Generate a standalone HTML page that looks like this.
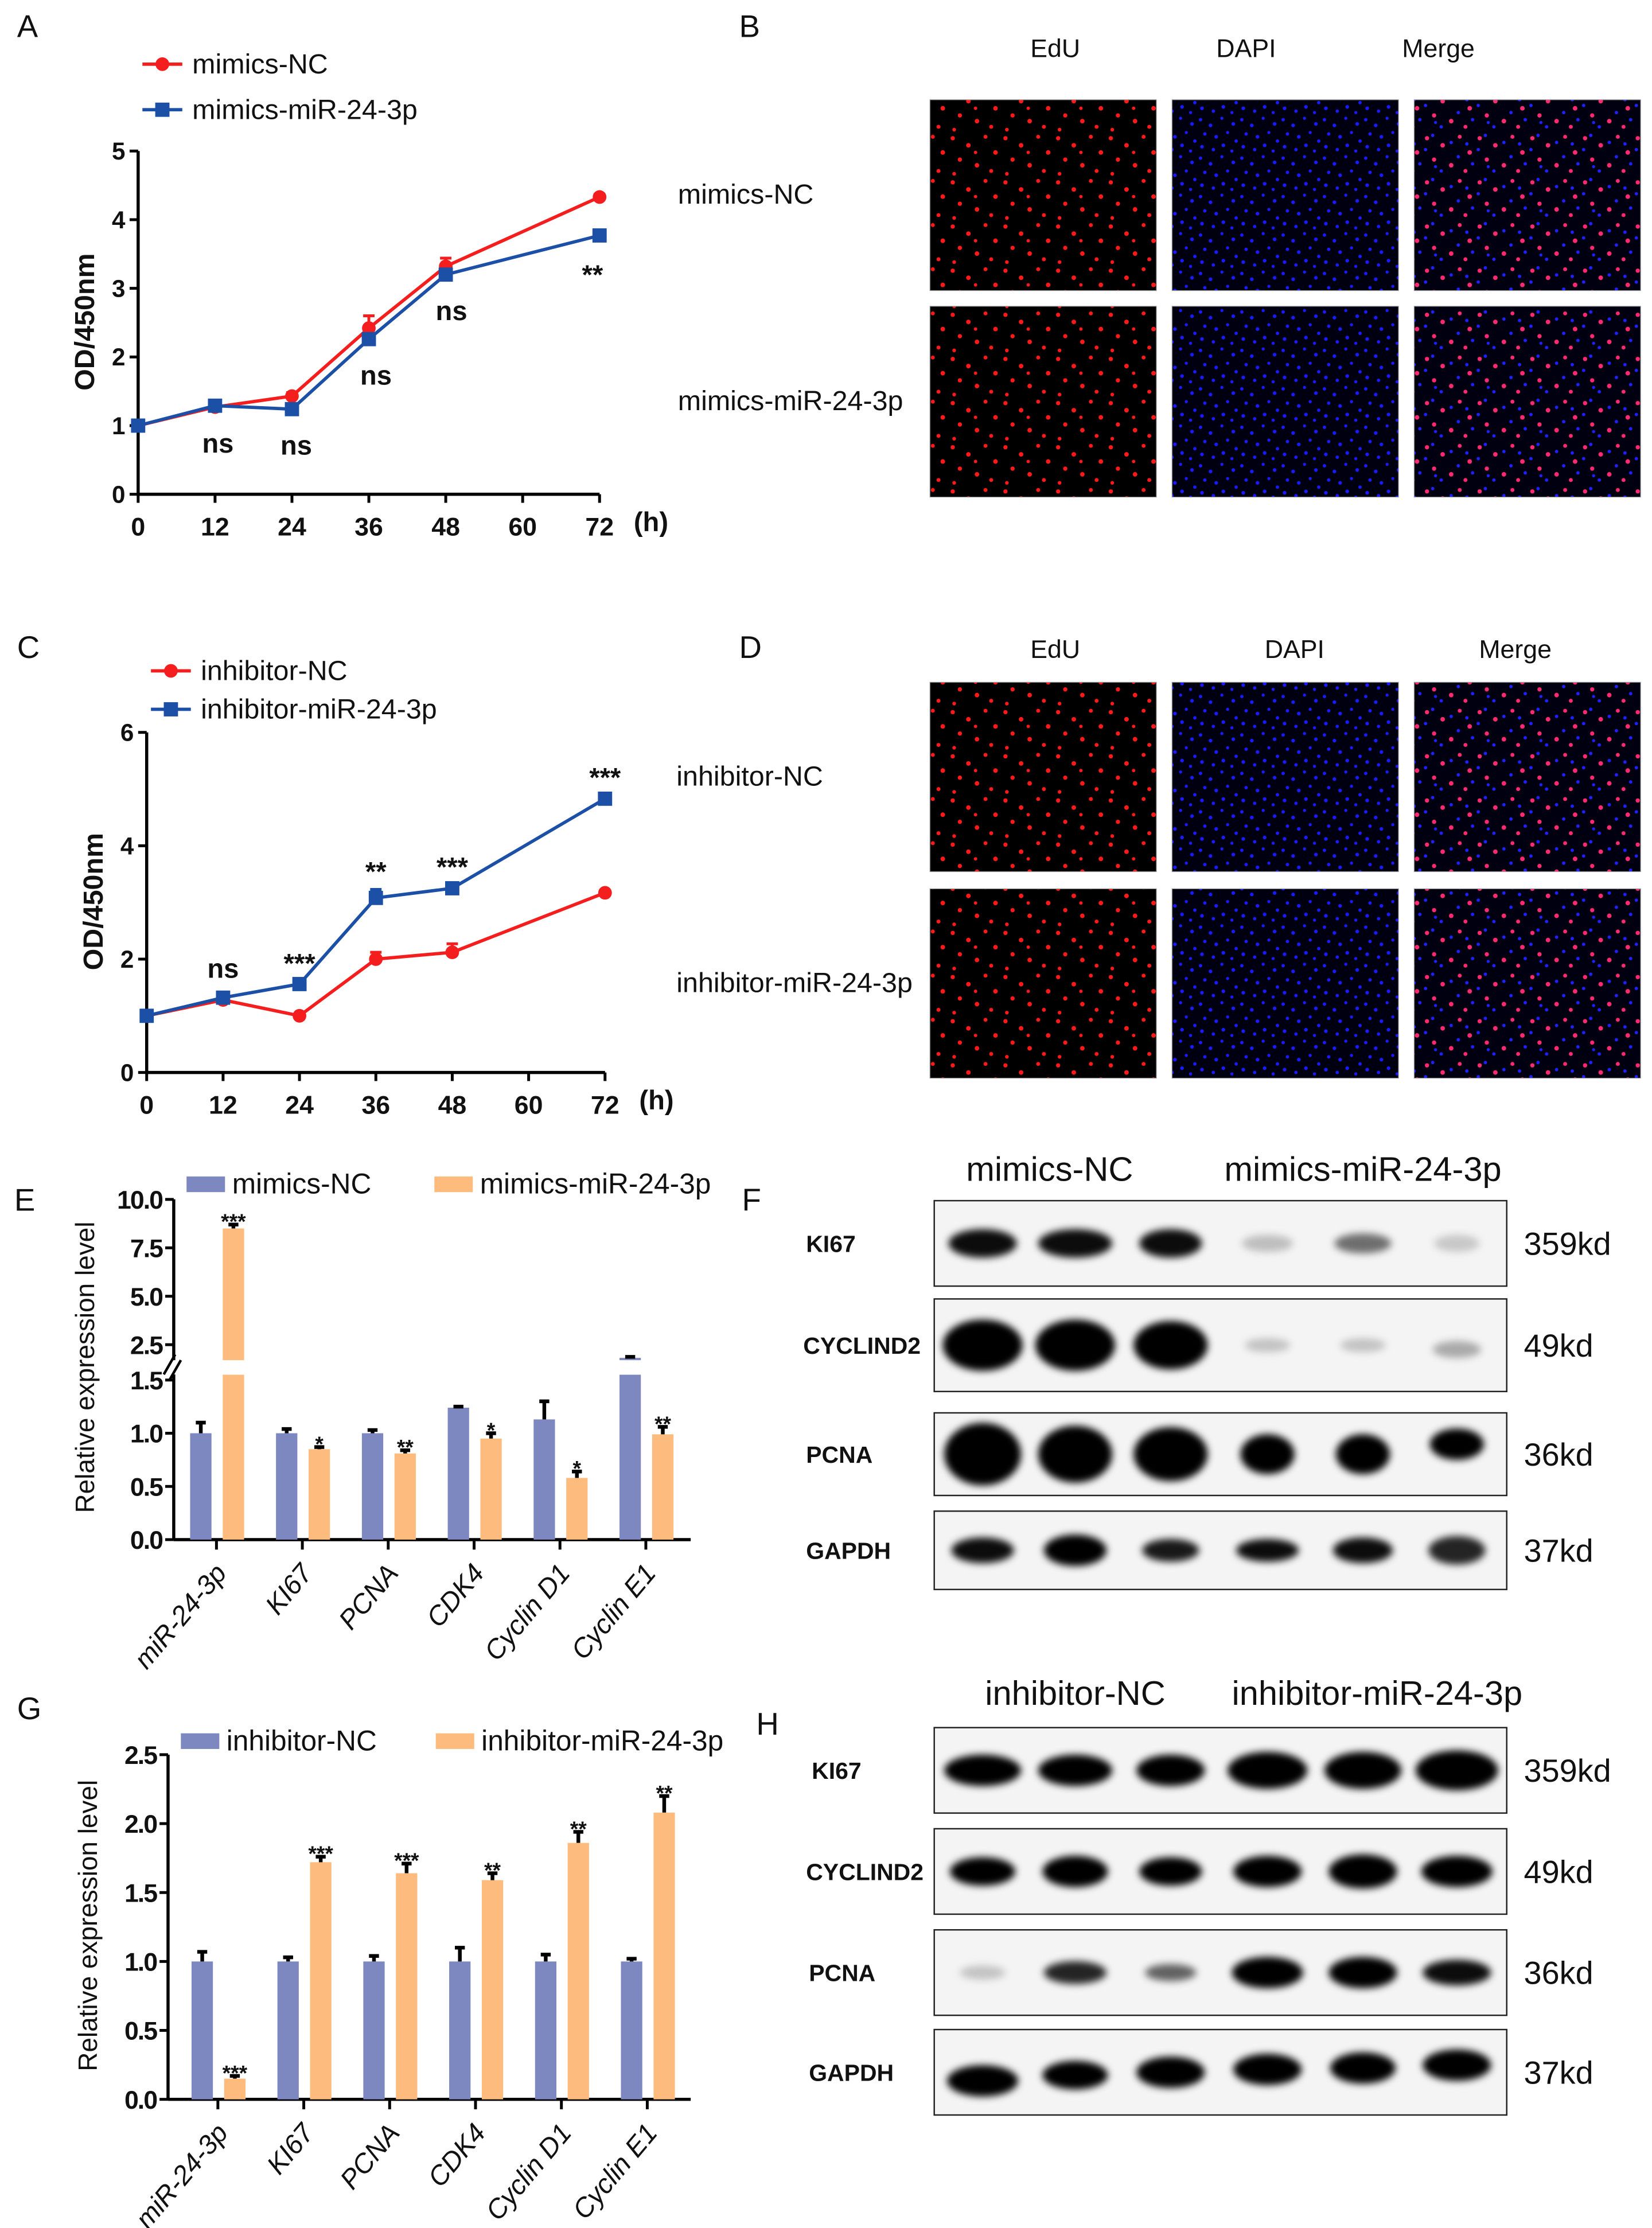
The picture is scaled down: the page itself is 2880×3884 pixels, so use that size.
<!DOCTYPE html>
<html><head><meta charset="utf-8">
<style>
html,body{margin:0;padding:0;background:#fff;}
svg{display:block;font-family:"Liberation Sans",Arial,sans-serif;}
</style></head>
<body>
<svg id="fig" width="2880" height="3884" viewBox="0 0 1160 1564.3" xmlns="http://www.w3.org/2000/svg">
<defs>
<pattern id="pRed" width="37" height="31" patternUnits="userSpaceOnUse">
<rect width="37" height="31" fill="#000"/>
<g fill="#ff1a1a"><circle cx="3" cy="4" r="1.5"/><circle cx="14" cy="9" r="1.6"/><circle cx="26" cy="3" r="1.4"/><circle cx="33" cy="14" r="1.6"/><circle cx="8" cy="19" r="1.5"/><circle cx="20" cy="23" r="1.6"/><circle cx="30" cy="27" r="1.4"/><circle cx="4" cy="29" r="1.3"/><circle cx="19" cy="14" r="1.2"/></g>
</pattern>
<pattern id="pBlue" width="29" height="27" patternUnits="userSpaceOnUse">
<rect width="29" height="27" fill="#000010"/>
<g fill="#1a1aff"><circle cx="2" cy="3" r="1.2"/><circle cx="9" cy="7" r="1.3"/><circle cx="17" cy="2" r="1.1"/><circle cx="25" cy="6" r="1.3"/><circle cx="5" cy="13" r="1.2"/><circle cx="13" cy="15" r="1.3"/><circle cx="21" cy="12" r="1.1"/><circle cx="27" cy="18" r="1.2"/><circle cx="3" cy="22" r="1.3"/><circle cx="11" cy="24" r="1.2"/><circle cx="18" cy="21" r="1.3"/><circle cx="24" cy="25" r="1.1"/></g>
</pattern>
<pattern id="pMerge" width="37" height="31" patternUnits="userSpaceOnUse">
<rect width="37" height="31" fill="#000010"/>
<g fill="#2020ff"><circle cx="7" cy="2" r="1.2"/><circle cx="20" cy="7" r="1.2"/><circle cx="31" cy="8" r="1.2"/><circle cx="2" cy="12" r="1.2"/><circle cx="25" cy="17" r="1.2"/><circle cx="13" cy="27" r="1.2"/><circle cx="35" cy="22" r="1.2"/><circle cx="9" cy="24" r="1.1"/></g>
<g fill="#ff2a70"><circle cx="3" cy="4" r="1.5"/><circle cx="14" cy="9" r="1.6"/><circle cx="26" cy="3" r="1.4"/><circle cx="33" cy="14" r="1.6"/><circle cx="8" cy="19" r="1.5"/><circle cx="20" cy="23" r="1.6"/><circle cx="30" cy="27" r="1.4"/></g>
</pattern>
<filter id="blur" x="-30%" y="-60%" width="160%" height="220%"><feGaussianBlur stdDeviation="2.6"/></filter>
</defs>
</svg>
<script>
// ===== Panel A data =====
const hoursA = [0, 12, 24, 36, 48, 72];
const ncA = [1.0, 1.27, 1.43, 2.42, 3.32, 4.33];
const ncAErr = [0.02, 0.03, 0.05, 0.18, 0.12, 0.04];
const mirA = [1.0, 1.29, 1.24, 2.26, 3.2, 3.77];
const mirAErr = [0.02, 0.03, 0.03, 0.08, 0.06, 0.04];
const sigA = ["", "ns", "ns", "ns", "ns", "**"];
const xTicksA = [0, 12, 24, 36, 48, 60, 72];
const yTicksA = [0, 1, 2, 3, 4, 5];
// ===== Panel C data =====
const hoursC = [0, 12, 24, 36, 48, 72];
const ncC = [1.0, 1.28, 1.0, 2.0, 2.12, 3.17];
const ncCErr = [0.02, 0.05, 0.03, 0.12, 0.15, 0.04];
const mirC = [1.0, 1.32, 1.56, 3.08, 3.25, 4.83];
const mirCErr = [0.02, 0.05, 0.05, 0.15, 0.06, 0.06];
const sigC = ["", "ns", "***", "**", "***", "***"];
const xTicksC = [0, 12, 24, 36, 48, 60, 72];
const yTicksC = [0, 2, 4, 6];
// ===== Panel E data =====
const genes = ["miR-24-3p", "KI67", "PCNA", "CDK4", "Cyclin D1", "Cyclin E1"];
const ncE = [1.0, 1.0, 1.0, 1.24, 1.13, 1.82];
const ncEErr = [0.1, 0.04, 0.03, 0.01, 0.17, 0.05];
const mirE = [8.5, 0.85, 0.81, 0.95, 0.58, 0.99];
const mirEErr = [0.2, 0.02, 0.03, 0.05, 0.06, 0.07];
const sigE = ["***", "*", "**", "*", "*", "**"];
const yTicksELow = [0.0, 0.5, 1.0, 1.5];
const yTicksEHigh = [2.5, 5.0, 7.5, 10.0];
// ===== Panel G data =====
const ncG = [1.0, 1.0, 1.0, 1.0, 1.0, 1.0];
const ncGErr = [0.07, 0.03, 0.04, 0.1, 0.05, 0.02];
const mirG = [0.15, 1.72, 1.64, 1.59, 1.86, 2.08];
const mirGErr = [0.02, 0.04, 0.07, 0.05, 0.08, 0.12];
const sigG = ["***", "***", "***", "**", "**", "**"];
const yTicksG = [0.0, 0.5, 1.0, 1.5, 2.0, 2.5];

const NS = "http://www.w3.org/2000/svg";
const svg = document.getElementById("fig");
function mk(tag, attrs, parent, txt) {
  const e = document.createElementNS(NS, tag);
  for (const k in attrs) e.setAttribute(k, attrs[k]);
  if (txt !== undefined) e.textContent = txt;
  (parent || svg).appendChild(e);
  return e;
}
function grp(name) {
  const g = mk("g", {});
  
  
  return g;
}
function label(t, x, y, size, parent, name, extra) {
  const a = Object.assign({x: x, y: y, "font-size": size, fill: "#111"}, extra || {});
  const e = mk("text", a, parent, t);
  
  
  return e;
}

// ===== Panel letters =====
const letters = [["A",12,26],["B",519,26],["C",12,462],["D",519,462],["E",10,850],["F",521,850],["G",12,1207],["H",531,1218]];
letters.forEach(l => label(l[0], l[1], l[2], 22, svg, "panel-label-" + l[0].toLowerCase()));

// ===== Line chart =====
function lineChart(id, cfg) {
  const g = grp(id);
  const X = h => cfg.x0 + h * cfg.xs;
  const Y = v => cfg.y0 - v * cfg.ys;
  const top = Y(cfg.yTicks[cfg.yTicks.length - 1]);
  const ax = mk("path", {d: `M${cfg.x0} ${top}V${cfg.y0}H${X(72)}`, stroke: "#000", "stroke-width": 2.2, fill: "none"}, g);
  
  cfg.yTicks.forEach(t => {
    mk("line", {x1: cfg.x0 - 6, x2: cfg.x0, y1: Y(t), y2: Y(t), stroke: "#000", "stroke-width": 2}, g);
    label(String(t), cfg.x0 - 9, Y(t) + 6, 17, g, "y-tick-" + t, {"text-anchor": "end", "font-weight": "bold"});
  });
  cfg.xTicks.forEach(t => {
    mk("line", {x1: X(t), x2: X(t), y1: cfg.y0, y2: cfg.y0 + 6, stroke: "#000", "stroke-width": 2}, g);
    label(String(t), X(t), cfg.y0 + 29, 18, g, "x-tick-" + t, {"text-anchor": "middle", "font-weight": "bold"});
  });
  label("(h)", X(72) + 24, cfg.y0 + 26, 19, g, "x-axis-unit", {"font-weight": "bold"});
  label("OD/450nm", 0, 0, 19.5, g, "y-axis-title", {"font-weight": "bold", "text-anchor": "middle", transform: `translate(${cfg.titleX},${cfg.titleY}) rotate(-90)`});
  const series = [
    {v: cfg.nc, e: cfg.ncErr, c: "#f41e1e", m: "circle", n: "nc"},
    {v: cfg.mir, e: cfg.mirErr, c: "#1c4fa6", m: "square", n: "mir"}
  ];
  series.forEach(s => {
    const sg = mk("g", {}, g);
    
    
    const pts = cfg.hours.map((h, i) => X(h) + "," + Y(s.v[i])).join(" ");
    mk("polyline", {points: pts, fill: "none", stroke: s.c, "stroke-width": 2.3}, sg);
    cfg.hours.forEach((h, i) => {
      const yy = Y(s.v[i] + s.e[i]);
      mk("path", {d: `M${X(h)} ${Y(s.v[i])}V${yy}M${X(h)-4} ${yy}H${X(h)+4}`, stroke: s.c, "stroke-width": 2}, sg);
      let p;
      if (s.m === "circle") p = mk("circle", {cx: X(h), cy: Y(s.v[i]), r: 4.8, fill: s.c}, sg);
      else p = mk("rect", {x: X(h) - 5, y: Y(s.v[i]) - 5, width: 10, height: 10, fill: s.c}, sg);
      
      
    });
  });
  cfg.hours.forEach((h, i) => {
    if (!cfg.sig[i]) return;
    const stars = cfg.sig[i] !== "ns";
    let y;
    if (cfg.sigAbove) y = Y(Math.max(cfg.nc[i] + cfg.ncErr[i], cfg.mir[i] + cfg.mirErr[i])) - (stars ? 6 : 12);
    else y = Y(Math.min(cfg.nc[i], cfg.mir[i])) + (stars ? 34 : 32);
    label(cfg.sig[i], X(h) + (cfg.sigDx ? cfg.sigDx[i] : 0), y, stars ? 19 : 19, g, "sig-" + h, {"text-anchor": "middle", "font-weight": "bold"});
  });
  const lg = mk("g", {}, g);
  
  
  cfg.legend.forEach((L, i) => {
    const s = series[i];
    mk("line", {x1: L[0], x2: L[0] + 28, y1: L[1], y2: L[1], stroke: s.c, "stroke-width": 2.3}, lg);
    if (s.m === "circle") mk("circle", {cx: L[0] + 14, cy: L[1], r: 4.8, fill: s.c}, lg);
    else mk("rect", {x: L[0] + 9, y: L[1] - 5, width: 10, height: 10, fill: s.c}, lg);
    label(L[2], L[0] + 35, L[1] + 6.5, 19.5, lg, "legend-entry-" + s.n);
  });
}
lineChart("chart-a", {x0: 97, y0: 347, xs: 4.5, ys: 48.2, hours: hoursA, nc: ncA, ncErr: ncAErr, mir: mirA, mirErr: mirAErr,
  sig: sigA, sigDx: [0, 2, 3, 5, 4, -5], xTicks: xTicksA, yTicks: yTicksA, titleX: 66, titleY: 226, sigAbove: false,
  legend: [[100, 45, "mimics-NC"], [100, 77, "mimics-miR-24-3p"]]});
lineChart("chart-c", {x0: 103, y0: 753, xs: 4.47, ys: 39.8, hours: hoursC, nc: ncC, ncErr: ncCErr, mir: mirC, mirErr: mirCErr,
  sig: sigC, sigDx: [0, 0, 0, 0, 0, 0], xTicks: xTicksC, yTicks: yTicksC, titleX: 72, titleY: 633, sigAbove: true,
  legend: [[106, 471, "inhibitor-NC"], [106, 498, "inhibitor-miR-24-3p"]]});

// ===== Fluorescence panels =====
function fluor(id, headers, hy, rows, rowLabels, cols) {
  const g = grp(id);
  headers.forEach((h, i) => label(h[0], h[1], hy, 18, g, "column-header-" + h[0].toLowerCase(), {"text-anchor": "middle"}));
  const fills = ["url(#pRed)", "url(#pBlue)", "url(#pMerge)"];
  const names = ["edu", "dapi", "merge"];
  rows.forEach((r, ri) => {
    label(rowLabels[ri], rowLabels[2], (r[0] + r[1]) / 2 + 6, 19.5, g, "row-label-" + (ri + 1));
    cols.forEach((c, ci) => {
      const im = mk("rect", {x: c, y: r[0], width: 159, height: r[1] - r[0], fill: fills[ci], stroke: "#999", "stroke-width": 0.5}, g);
      
      
    });
  });
}
fluor("panel-b", [["EdU", 741], ["DAPI", 875], ["Merge", 1010]], 40, [[70, 204], [215, 349]], ["mimics-NC", "mimics-miR-24-3p", 476], [653, 823, 993]);
fluor("panel-d", [["EdU", 741], ["DAPI", 909], ["Merge", 1064]], 462, [[479, 612], [624, 757]], ["inhibitor-NC", "inhibitor-miR-24-3p", 475], [653, 823, 993]);

// ===== Bar charts =====
function barChart(id, cfg) {
  const g = grp(id);
  const Y = cfg.Y;
  const X = i => cfg.t0 + i * 60.3;
  cfg.ySegs.forEach(s => mk("line", {x1: cfg.x0, x2: cfg.x0, y1: s[0], y2: s[1], stroke: "#000", "stroke-width": 2.2}, g));
  mk("line", {x1: cfg.x0, x2: 485, y1: Y(0), y2: Y(0), stroke: "#000", "stroke-width": 2.2}, g);
  if (cfg.brk) mk("path", {d: `M${cfg.x0-7} ${cfg.brk+5}L${cfg.x0+1} ${cfg.brk-9}M${cfg.x0-3} ${cfg.brk+9}L${cfg.x0+5} ${cfg.brk-5}`, stroke: "#000", "stroke-width": 1.8}, g);
  cfg.yTicks.forEach(t => {
    mk("line", {x1: cfg.x0 - 6, x2: cfg.x0, y1: Y(t), y2: Y(t), stroke: "#000", "stroke-width": 2}, g);
    label(t.toFixed(1), cfg.x0 - 8, Y(t) + 6.5, 18, g, "y-tick-" + t, {"text-anchor": "end", "font-weight": "bold", "letter-spacing": "-0.8"});
  });
  label("Relative expression level", 0, 0, 18.5, g, "y-axis-title", {"text-anchor": "middle", transform: `translate(${cfg.titleX},${cfg.titleY}) rotate(-90)`});
  genes.forEach((n, i) => {
    mk("line", {x1: X(i), x2: X(i), y1: Y(0), y2: Y(0) + 7, stroke: "#000", "stroke-width": 2}, g);
    label(n, 0, 0, 19, g, "x-tick-" + i, {"text-anchor": "end", "font-style": "italic", transform: `translate(${X(i) + 8},${Y(0) + 24}) rotate(-50)`});
  });
  const series = [{v: cfg.nc, e: cfg.ncErr, c: "#7d88c0", dx: -18.5, n: "nc"}, {v: cfg.mir, e: cfg.mirErr, c: "#fdbb7d", dx: 4.4, n: "mir"}];
  series.forEach(s => {
    s.v.forEach((v, i) => {
      const x = X(i) + s.dx;
      const parts = cfg.split(v);
      parts.forEach((p, pi) => {
        const b = mk("rect", {x: x, y: Y(p[1]), width: 15, height: Y(p[0]) - Y(p[1]), fill: s.c}, g);
        
        
      });
      const yt = Y(v + s.e[i]);
      mk("path", {d: `M${x + 7.5} ${Y(v)}V${yt}M${x + 4} ${yt}H${x + 11}`, stroke: "#000", "stroke-width": 2.6}, g);
      if (s.n === "mir") label(cfg.sig[i], x + 7.5, yt + 3, 15, g, "sig-" + i, {"text-anchor": "middle", "font-weight": "bold"});
    });
  });
  const lg = mk("g", {}, g);
  
  
  cfg.legend.forEach((L, i) => {
    mk("rect", {x: L[0], y: L[1] - 12, width: 27, height: 11, fill: series[i].c}, lg);
    label(L[2], L[0] + 32, L[1], 20, lg, "legend-entry-" + series[i].n);
  });
}
const YE = v => v <= 1.6 ? 1081 - v * 74.7 : 955 - (v - 1.7) * 13.6;
barChart("chart-e", {x0: 122, t0: 152, Y: YE, ySegs: [[842, 955], [965, 1081]], brk: 960,
  yTicks: yTicksELow.concat(yTicksEHigh), nc: ncE, ncErr: ncEErr, mir: mirE, mirErr: mirEErr, sig: sigE,
  split: v => v > 1.6 ? [[0, 1.55], [1.7, v]] : [[0, v]], titleX: 66, titleY: 960,
  legend: [[131, 838, "mimics-NC"], [305, 838, "mimics-miR-24-3p"]]});
const YG = v => 1474 - v * 96.8;
barChart("chart-g", {x0: 118, t0: 153, Y: YG, ySegs: [[1232, 1474]], brk: 0,
  yTicks: yTicksG, nc: ncG, ncErr: ncGErr, mir: mirG, mirErr: mirGErr, sig: sigG,
  split: v => [[0, v]], titleX: 68, titleY: 1352,
  legend: [[127, 1229, "inhibitor-NC"], [306, 1229, "inhibitor-miR-24-3p"]]});

// ===== Western blots =====
const lanes = [690, 755, 822, 890, 957, 1023];
function blot(id, headers, hy, rows) {
  const g = grp(id);
  headers.forEach(h => label(h[0], h[1], hy, 24, g, "group-header-" + h[0].toLowerCase(), {"text-anchor": "middle"}));
  rows.forEach(r => {
    const rg = mk("g", {}, g);
    
    
    mk("rect", {x: 656, y: r.y0, width: 402, height: r.y1 - r.y0, fill: "#f4f4f4", stroke: "#222", "stroke-width": 1}, rg);
    const cy = (r.y0 + r.y1) / 2 + (r.dy || 0);
    r.bands.forEach((b, i) => {
      const e = mk("ellipse", {cx: lanes[i], cy: cy + (b[3] || 0), rx: b[0], ry: b[1], fill: "#000", "fill-opacity": b[2], filter: "url(#blur)"}, rg);
      
      
    });
    label(r.name, r.lx, (r.y0 + r.y1) / 2 + 6, 16.5, rg, "protein-label", {"font-weight": "bold"});
    label(r.kd, 1070, (r.y0 + r.y1) / 2 + 8, 22.5, rg, "size-label");
  });
}
blot("panel-f", [["mimics-NC", 737], ["mimics-miR-24-3p", 957]], 829, [
  {name: "KI67", kd: "359kd", lx: 566, y0: 843, y1: 903, dy: 0, bands: [[24, 10, 0.95], [26, 10, 0.95], [22, 10, 0.95], [18, 6, 0.22], [20, 7, 0.55], [16, 6, 0.18]]},
  {name: "CYCLIND2", kd: "49kd", lx: 564, y0: 912, y1: 977, dy: 0, bands: [[28, 18, 1], [28, 18, 1], [26, 17, 1], [16, 5, 0.2], [16, 5, 0.2], [17, 6, 0.3, 3]]},
  {name: "PCNA", kd: "36kd", lx: 566, y0: 992, y1: 1050, dy: 0, bands: [[27, 22, 1], [26, 20, 1], [26, 19, 1], [19, 14, 1], [19, 14, 1], [19, 11, 1, -7]]},
  {name: "GAPDH", kd: "37kd", lx: 566, y0: 1061, y1: 1116, dy: 0, bands: [[22, 9, 0.95], [22, 11, 1], [20, 8, 0.9], [22, 8, 0.95], [21, 9, 0.95], [20, 10, 0.85]]}
]);
blot("panel-h", [["inhibitor-NC", 755], ["inhibitor-miR-24-3p", 967]], 1197, [
  {name: "KI67", kd: "359kd", lx: 570, y0: 1213, y1: 1273, dy: 0, bands: [[27, 11, 1], [26, 11, 1], [24, 11, 1], [28, 13, 1], [27, 13, 1], [29, 14, 1]]},
  {name: "CYCLIND2", kd: "49kd", lx: 566, y0: 1284, y1: 1344, dy: 0, bands: [[23, 10, 1], [23, 11, 1], [22, 10, 1], [24, 11, 1], [24, 12, 1], [25, 11, 1]]},
  {name: "PCNA", kd: "36kd", lx: 568, y0: 1355, y1: 1415, dy: 0, bands: [[16, 5, 0.2], [22, 8, 0.85], [18, 6, 0.6], [25, 11, 1], [24, 11, 1], [24, 9, 0.95]]},
  {name: "GAPDH", kd: "37kd", lx: 568, y0: 1425, y1: 1485, dy: 0, bands: [[25, 11, 1, 6], [23, 10, 1, 2], [24, 11, 1], [24, 11, 1, -2], [23, 11, 1, -3], [24, 11, 1, -5]]}
]);
</script>
</body></html>
